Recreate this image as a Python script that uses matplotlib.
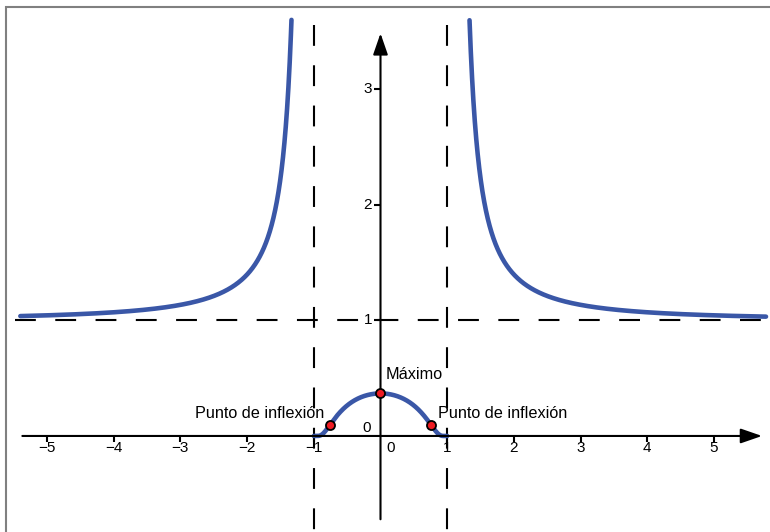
import numpy as np
import matplotlib
matplotlib.use("Agg")
import matplotlib.pyplot as plt
from matplotlib.patches import Rectangle

plt.rcParams['font.family'] = ['Liberation Sans', 'DejaVu Sans']
plt.rcParams['lines.scale_dashes'] = False

# f(x) = exp(1 / (x^2 - 1)): asymptotes, maximum and inflection points
vertical_asymptotes = [-1, 1]
horizontal_asymptote = 1
x_ticks = [-5, -4, -3, -2, -1, 1, 2, 3, 4, 5]
y_ticks = [1, 2, 3]
max_point = (0.0, 0.368)
inflection_points = [(-0.76, 0.094), (0.76, 0.094)]
point_labels = ['Punto de inflexión', 'Punto de inflexión']

left_branch = (-5.40, -1.0)
right_branch = (1.0, 5.78)
y_cut = 3.6

BLUE = '#3a57a7'


def f(x):
    return np.exp(1.0 / (x ** 2 - 1.0))


fig = plt.figure(figsize=(7.7, 5.32), dpi=100)
ax = fig.add_axes([0, 0, 1, 1])
ax.set_xlim(-5.705, 5.840)
ax.set_ylim(-0.830, 3.768)
ax.axis('off')

# frame
fig.patches.append(Rectangle((6.5 / 770, -0.1), 1.2, 1.1 - 6.5 / 532,
                             transform=fig.transFigure, fill=False,
                             edgecolor='#808080', linewidth=1.5))

# asymptotes
dash = (0, (15, 14))
for xa in vertical_asymptotes:
    ax.plot([xa, xa], [3.555, -0.9], color='black', lw=1.5, ls=dash)
ax.plot([-5.48, 5.9], [horizontal_asymptote] * 2, color='black', lw=1.5, ls=dash)

# axes with arrows
head = '-|>,head_length=1.3,head_width=0.45'
ax.annotate('', xy=(5.72, 0), xytext=(-5.37, 0),
            arrowprops=dict(arrowstyle=head, color='black', lw=1.5, shrinkA=0, shrinkB=0))
ax.annotate('', xy=(0, 3.48), xytext=(0, -0.72),
            arrowprops=dict(arrowstyle=head, color='black', lw=1.5, shrinkA=0, shrinkB=0))

# ticks and tick labels
ax.plot(x_ticks, [0] * len(x_ticks), ls='none', marker=3, ms=4, mew=1.5, color='black')
ax.plot([0] * len(y_ticks), y_ticks, ls='none', marker=0, ms=4, mew=1.5, color='black')
for t in x_ticks:
    ax.annotate(f'{t}'.replace('-', '\u2212'), (t, 0), xytext=(0, -8.5), textcoords='offset points',
                ha='center', va='center', fontsize=11)
for t in y_ticks:
    ax.annotate(str(t), (0, t), xytext=(-6, 0), textcoords='offset points',
                ha='right', va='center', fontsize=11)
ax.annotate('0', (0, 0), xytext=(7.5, -8.5), textcoords='offset points',
            ha='center', va='center', fontsize=11)
ax.annotate('0', (0, 0), xytext=(-10, 6), textcoords='offset points',
            ha='center', va='center', fontsize=11)

# graph of the function
xl = np.linspace(left_branch[0], left_branch[1] - 1e-4, 2000)
xr = np.linspace(right_branch[0] + 1e-4, right_branch[1], 2000)
xm = np.linspace(-0.9999, 0.9999, 1000)
for xs in (xl, xr):
    ys = f(xs)
    keep = ys <= y_cut
    ax.plot(xs[keep], ys[keep], color=BLUE, lw=3.3, solid_capstyle='round')
ax.plot(xm, f(xm), color=BLUE, lw=3.3, solid_capstyle='round')

# special points
px = [p[0] for p in inflection_points] + [max_point[0]]
py = [p[1] for p in inflection_points] + [max_point[1]]
ax.plot(px, py, ls='none', marker='o', ms=6.5, mfc='#ee1c24', mec='black', mew=1.3, zorder=5)

ax.annotate('Máximo', max_point, xytext=(3.5, 13.5), textcoords='offset points',
            ha='left', va='center', fontsize=11.7)
ax.annotate(point_labels[0], inflection_points[0], xytext=(-4, 8.5), textcoords='offset points',
            ha='right', va='center', fontsize=11.7)
ax.annotate(point_labels[1], inflection_points[1], xytext=(5, 8), textcoords='offset points',
            ha='left', va='center', fontsize=11.7)

fig.savefig('out.png', dpi=100)
